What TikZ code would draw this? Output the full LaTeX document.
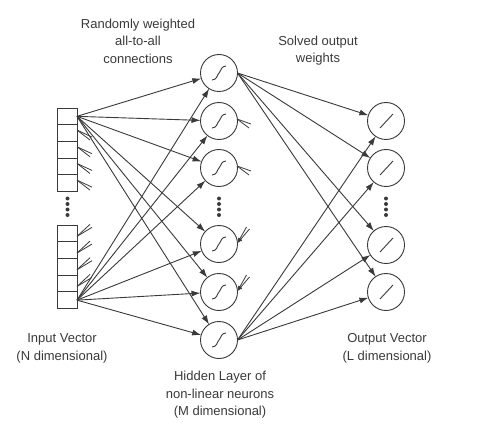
\documentclass[tikz,border=0pt]{standalone}
\usepackage{fontspec}
\setmainfont{Liberation Sans}
\usetikzlibrary{arrows.meta,calc}
\definecolor{ink}{HTML}{3A3A3A}
\begin{document}
\begin{tikzpicture}[x=1pt,y=-1pt,
  cell/.style={draw=ink, line width=0.9pt, minimum width=20pt, minimum height=16.7pt, inner sep=0pt, outer sep=0pt},
  neuron/.style={draw=ink, line width=0.9pt, circle, minimum size=37pt, inner sep=0pt, outer sep=0pt},
  conn/.style={draw=ink, line width=0.9pt, -{Latex[length=9pt,width=6pt]}},
  stub/.style={draw=ink, line width=0.8pt},
  instub/.style={draw=ink, line width=0.8pt, {Latex[length=5pt,width=4pt]}-},
  glyph/.style={draw=ink, line width=0.9pt},
  lbl/.style={text=ink, align=center, font=\fontsize{13}{17.5}\selectfont, inner sep=0pt},
  dotmark/.style={fill=ink, circle, inner sep=0pt, minimum size=4pt}]
\fill[white] (0,0) rectangle (478,430);
\useasboundingbox (0,0) rectangle (478,430);

% input cells
\foreach \k/\y in {1/116.35,2/133.05,3/149.75,4/166.45,5/183.15}
  \node[cell] (a\k) at (67,\y) {};
\foreach \k/\y in {1/233.35,2/250.05,3/266.75,4/283.45,5/300.15}
  \node[cell] (b\k) at (67,\y) {};
\foreach \y [count=\k] in {198.5,204,209.5,215}
  \node[dotmark] (di\k) at (67.5,\y) {};

% hidden neurons
\foreach \y [count=\k] in {73,121,168,244,292,340}
  \node[neuron] (h\k) at (219,\y) {};
\foreach \y [count=\k] in {198.5,204,209.5,215}
  \node[dotmark] (dh\k) at (219,\y) {};

% output neurons
\foreach \y [count=\k] in {121,168,245,292}
  \node[neuron] (o\k) at (386,\y) {};
\foreach \y [count=\k] in {198.5,204,209.5,215}
  \node[dotmark] (do\k) at (386,\y) {};

% glyphs in neurons
\foreach \k in {1,...,6}
  \draw[glyph] ($(h\k)+(-7,7)$) .. controls ($(h\k)+(-2,7)$) and ($(h\k)+(-2,2)$) .. ($(h\k)$)
     .. controls ($(h\k)+(2,-2)$) and ($(h\k)+(2,-7)$) .. ($(h\k)+(7,-7)$);
\foreach \k in {1,...,4}
  \draw[glyph] ($(o\k)+(-6,7)$) -- ($(o\k)+(7,-7)$);

% input -> hidden
\foreach \j in {1,...,6} {
  \draw[conn] (a1.east) -- (h\j);
  \draw[conn] (b5.east) -- (h\j);
}
% hidden -> output
\foreach \j in {1,...,4} {
  \draw[conn] (h1.east) -- (o\j);
  \draw[conn] (h6.east) -- (o\j);
}

% stubs on input cells
\foreach \k in {2,...,5} {
  \draw[stub] ($(a\k.east)+(0,-3)$) -- ++(15,7);
  \draw[stub] ($(a\k.east)+(0,-3)$) -- ++(13,10);
}
\foreach \k in {1,...,4} {
  \draw[stub] ($(b\k.east)+(0,3)$) -- ++(15,-9);
  \draw[stub] ($(b\k.east)+(0,3)$) -- ++(13,-12);
}
% stubs on hidden neurons
\foreach \k in {2,3} {
  \draw[stub] ($(h\k.east)+(-0.5,-2)$) -- ++(14,5);
  \draw[stub] ($(h\k.east)+(-0.5,-2)$) -- ++(12,9);
}
\foreach \k in {4,5} {
  \draw[instub] ($(h\k.east)+(0,-1)$) -- ++(12,-14);
  \draw[instub] ($(h\k.east)+(0,-1)$) -- ++(9,-16);
}

% labels
\node[lbl] (t1) at (138,41) {Randomly weighted\\all-to-all\\connections};
\node[lbl] (t2) at (318,50.5) {Solved output\\weights};
\node[lbl] (t3) at (62,348.5) {Input Vector\\(N dimensional)};
\node[lbl] (t4) at (220,395) {Hidden Layer of\\non-linear neurons\\(M dimensional)};
\node[lbl] (t5) at (387,348.5) {Output Vector\\(L dimensional)};
\end{tikzpicture}
\end{document}
